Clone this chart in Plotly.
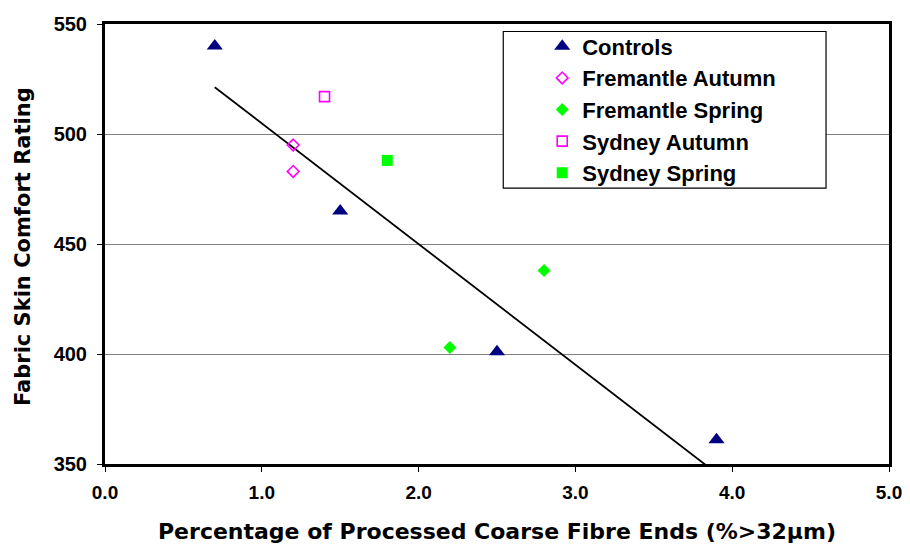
import numpy as np
import plotly.graph_objects as go

# ---- data ----
controls_x = [0.7, 1.5, 2.5, 3.9]
controls_y = [540, 465, 401, 361]
fre_aut_x = [1.2, 1.2]
fre_aut_y = [495, 483]
fre_spr_x = [2.2, 2.8]
fre_spr_y = [403, 438]
syd_aut_x = [1.4]
syd_aut_y = [517]
syd_spr_x = [1.8]
syd_spr_y = [488]

x_ticks = [0, 1, 2, 3, 4, 5]
x_tick_labels = ["0.0", "1.0", "2.0", "3.0", "4.0", "5.0"]
y_ticks = [350, 400, 450, 500, 550]

# linear trend fitted to the controls
slope, intercept = np.polyfit(controls_x, controls_y, 1)
trend_x = [min(controls_x), max(controls_x)]
trend_y = [slope * v + intercept for v in trend_x]

NAVY = "#000080"
MAGENTA = "#FF00FF"
LIME = "#00FF00"

fig = go.Figure()
fig.add_trace(go.Scatter(x=trend_x, y=trend_y, mode="lines",
                         line=dict(color="black", width=1.8),
                         showlegend=False, hoverinfo="skip"))
fig.add_trace(go.Scatter(x=controls_x, y=controls_y, mode="markers", name="Controls",
                         marker=dict(symbol="triangle-up", size=14, color=NAVY,
                                     line=dict(width=0))))
fig.add_trace(go.Scatter(x=fre_aut_x, y=fre_aut_y, mode="markers", name="Fremantle Autumn",
                         marker=dict(symbol="diamond-open", size=9, color=MAGENTA,
                                     line=dict(width=1.6, color=MAGENTA))))
fig.add_trace(go.Scatter(x=fre_spr_x, y=fre_spr_y, mode="markers", name="Fremantle Spring",
                         marker=dict(symbol="diamond", size=10, color=LIME,
                                     line=dict(width=0))))
fig.add_trace(go.Scatter(x=syd_aut_x, y=syd_aut_y, mode="markers", name="Sydney Autumn",
                         marker=dict(symbol="square-open", size=10, color=MAGENTA,
                                     line=dict(width=1.6, color=MAGENTA))))
fig.add_trace(go.Scatter(x=syd_spr_x, y=syd_spr_y, mode="markers", name="Sydney Spring",
                         marker=dict(symbol="square", size=11, color=LIME,
                                     line=dict(width=0))))

OFF = 8  # page body margin
W, H = 910 - OFF, 550 - OFF
L, R, T, B = 104.5 - OFF, 21, 23.5 - OFF, 85.5
pw, ph = W - L - R, H - T - B

def px_x(p):
    return (p - OFF - L) / pw

def px_y(p):
    return 1 - (p - OFF - T) / ph

# legend box
fig.add_shape(type="rect", xref="paper", yref="paper",
              x0=px_x(503), x1=px_x(826), y0=px_y(188), y1=px_y(31),
              fillcolor="white", line=dict(color="black", width=1.2), layer="above")

title_family = "DejaVu Sans, sans-serif"
tick_family = "Liberation Sans, Arial, sans-serif"

# y axis title placed as an annotation for precise position
fig.add_annotation(text="Fabric Skin Comfort Rating", textangle=-90,
                   xref="paper", yref="paper", x=px_x(23), y=px_y(246.5),
                   xanchor="center", yanchor="middle", showarrow=False,
                   font=dict(family=title_family, size=21, color="black", weight="bold"))

fig.update_layout(
    width=W, height=H,
    margin=dict(l=L, r=R, t=T, b=B, autoexpand=False),
    paper_bgcolor="white", plot_bgcolor="white",
    hovermode=False,
    font=dict(family=tick_family, color="black"),
    legend=dict(x=px_x(542), y=px_y(25), xanchor="left", yanchor="top",
                bgcolor="rgba(0,0,0,0)", borderwidth=0,
                font=dict(family=tick_family, size=22, color="black", weight="bold"),
                tracegroupgap=0, itemwidth=30),
    xaxis=dict(range=[0, 5], tickvals=x_ticks, ticktext=x_tick_labels,
               showgrid=False, zeroline=False,
               showline=True, linecolor="black", linewidth=3, mirror=True,
               ticks="outside", ticklen=5, tickwidth=1, tickcolor="black",
               ticklabelstandoff=4,
               tickfont=dict(family=tick_family, size=19, color="black", weight="bold"),
               title=dict(text="Percentage of Processed Coarse Fibre Ends (%>32μm)",
                          font=dict(family=title_family, size=22, color="black",
                                    weight="bold"), standoff=22)),
    yaxis=dict(range=[350, 550], tickvals=y_ticks,
               showgrid=True, gridcolor="#808080", gridwidth=1, zeroline=False,
               showline=True, linecolor="black", linewidth=3, mirror=True,
               ticks="outside", ticklen=5, tickwidth=1, tickcolor="black",
               ticklabelstandoff=6,
               tickfont=dict(family=tick_family, size=20, color="black", weight="bold")),
)

fig.write_html("out.html")
